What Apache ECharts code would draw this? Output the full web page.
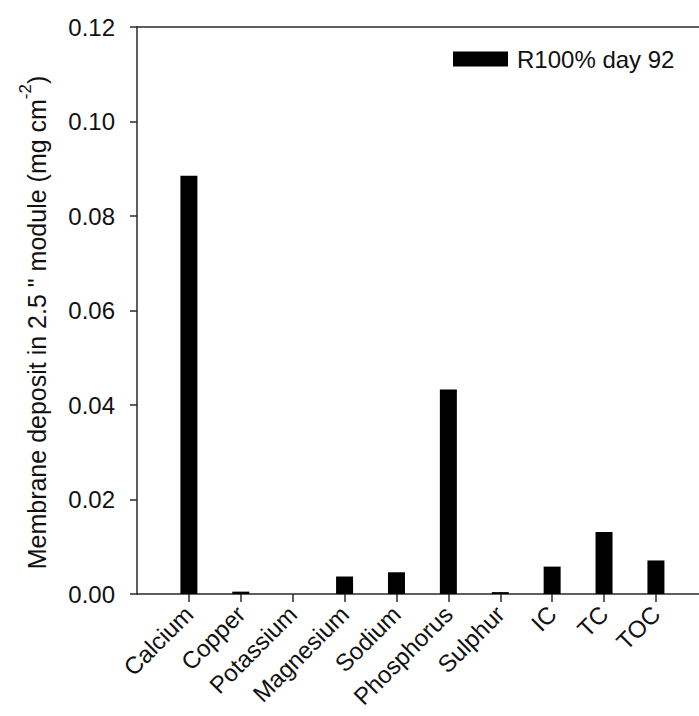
<!DOCTYPE html>
<html>
<head>
<meta charset="utf-8">
<script src="https://cdn.jsdelivr.net/npm/echarts@6/dist/echarts.min.js"></script>
<style>
  html, body { margin: 0; padding: 0; background: #fff; }
  #chart { width: 699px; height: 716px; }
</style>
</head>
<body>
<div id="chart"></div>
<script>
// Membrane deposit per element, R100% day 92
var categories = ['Calcium', 'Copper', 'Potassium', 'Magnesium', 'Sodium', 'Phosphorus', 'Sulphur', 'IC', 'TC', 'TOC'];
var deposit = [0.0885, 0.0005, 0, 0.0037, 0.0046, 0.0433, 0.0004, 0.0058, 0.0131, 0.0071];
var yTicks = [0, 0.02, 0.04, 0.06, 0.08, 0.10, 0.12];
var seriesName = 'R100% day 92';

(function() {
  var font = '"Liberation Sans", Arial, sans-serif';
  var ink = '#111';
  var line = '#2a2a2a';

  // categories sit at 1..10 on a value axis, like the original plot
  var positions = categories.map(function(c, i) { return i + 1; });
  var barData = deposit.map(function(v, i) { return [positions[i], v]; });

  var chart = echarts.init(document.getElementById('chart'), null, { renderer: 'svg' });
  chart.setOption({
    animation: false,
    textStyle: { fontFamily: font },
    grid: { left: 137, top: 27, right: 0, bottom: 122 },
    legend: {
      left: 448, top: 42,
      itemWidth: 55, itemHeight: 15, itemGap: 10,
      icon: 'rect',
      textStyle: { color: ink, fontSize: 24, fontFamily: font, padding: [0, 0, 0, 4] },
      data: [seriesName]
    },
    xAxis: [{
      type: 'value',
      min: 0, max: 10.83, interval: 1,
      splitLine: { show: false },
      axisLine: { lineStyle: { color: line, width: 1.5 } },
      axisTick: { show: true, length: 8, customValues: positions, lineStyle: { color: line, width: 1.5 } },
      axisLabel: {
        customValues: positions,
        rotate: 45, margin: 16,
        color: ink, fontSize: 24, fontFamily: font,
        formatter: function(v) { return categories[Math.round(v) - 1] || ''; }
      }
    }, {
      type: 'value',
      position: 'top',
      min: 0, max: 10.83,
      splitLine: { show: false },
      axisLine: { show: true, onZero: false, lineStyle: { color: line, width: 1.5 } },
      axisTick: { show: false },
      axisLabel: { show: false }
    }],
    yAxis: {
      type: 'value',
      min: yTicks[0], max: yTicks[yTicks.length - 1], interval: 0.02,
      splitLine: { show: false },
      axisLine: { show: true, lineStyle: { color: line, width: 1.5 } },
      axisTick: { show: true, length: 7, lineStyle: { color: line, width: 1.5 } },
      axisLabel: {
        color: ink, fontSize: 24, fontFamily: font, margin: 22,
        formatter: function(v) { return v.toFixed(2); }
      },
      name: '{a|Membrane deposit in 2.5 " module (mg cm}{s|-2}{a|)}',
      nameLocation: 'middle',
      nameGap: 88,
      nameTextStyle: {
        padding: [0, 24, 0, 0],
        rich: {
          a: { fontSize: 25, color: ink, fontFamily: font, lineHeight: 32, verticalAlign: 'bottom' },
          s: { fontSize: 17, color: ink, fontFamily: font, lineHeight: 32, verticalAlign: 'top' }
        }
      }
    },
    series: [{
      name: seriesName,
      type: 'bar',
      barWidth: 17,
      itemStyle: { color: '#000' },
      data: barData
    }]
  });
  window.addEventListener('resize', function() { chart.resize(); });
})();
</script>
</body>
</html>
